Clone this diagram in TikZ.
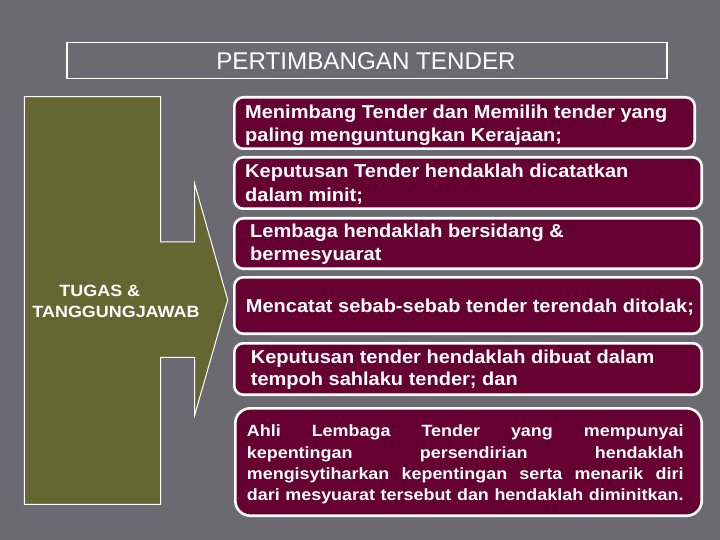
\documentclass[tikz,border=0pt]{standalone}
\usepackage{fontspec}
\setmainfont{Liberation Sans}
\newfontfamily\bxfont[FakeStretch=1.07]{Liberation Sans}
\newfontfamily\smfont[FakeStretch=1.1]{Liberation Sans}
\definecolor{bgc}{RGB}{107,106,114}
\definecolor{olivec}{RGB}{102,102,51}
\definecolor{maroonc}{RGB}{102,0,51}
\begin{document}
\begin{tikzpicture}[x=1bp,y=-1bp,
  itembox/.style={draw=white,line width=2.6bp,fill=maroonc,rounded corners=9bp},
  ln/.style={anchor=base west,inner sep=0pt,text=white,font=\bxfont\bfseries\fontsize{18.7bp}{22bp}\selectfont},
  lnsm/.style={anchor=base west,inner sep=0pt,text=white,font=\smfont\bfseries\fontsize{16.3bp}{20bp}\selectfont}]
\fill[bgc] (0,0) rectangle (720,540);
\useasboundingbox (0,0) rectangle (720,540);
% title
\draw[white,line width=1.2bp] (67,42.5) rectangle (667,78.5);
\node[anchor=base,inner sep=0pt,text=white,font=\fontsize{24.2bp}{27bp}\selectfont] (title) at (366,70) {PERTIMBANGAN TENDER};
% arrow shape
\draw[white,line width=1bp,fill=olivec,line join=miter]
  (24.3,96.7) -- (160.7,96.7) -- (160.7,242) -- (194.7,242) -- (194.7,184)
  -- (227.7,300) -- (194.7,415) -- (194.7,357.3) -- (160.7,357.3)
  -- (160.7,504.3) -- (24.3,504.3) -- cycle;
\node[lnsm] (lab1) at (59.3,296) {TUGAS \&};
\node[lnsm] (lab2) at (32.3,317.7) {TANGGUNGJAWAB};
% boxes
\draw[itembox] (234.3,97.3) rectangle (694.7,148.7);
\draw[itembox] (234.3,157.3) rectangle (701.7,208.7);
\draw[itembox] (234.3,218.3) rectangle (701.7,268.7);
\draw[itembox] (234.3,277.3) rectangle (701.7,333.7);
\draw[itembox] (234.3,343.3) rectangle (701.7,394.7);
\draw[itembox,rounded corners=15bp] (235.3,408.3) rectangle (701.7,515.7);
% texts
\node[ln] (t1a) at (245,118.7) {Menimbang Tender dan Memilih tender yang};
\node[ln] (t1b) at (245,142) {paling menguntungkan Kerajaan;};
\node[ln] (t2a) at (245,178) {Keputusan Tender hendaklah dicatatkan};
\node[ln] (t2b) at (245,201.3) {dalam minit;};
\node[ln] (t3a) at (250,237.7) {Lembaga hendaklah bersidang \&};
\node[ln] (t3b) at (250,260.3) {bermesyuarat};
\node[ln] (t4a) at (245.7,312) {Mencatat sebab-sebab tender terendah ditolak;};
\node[ln] (t5a) at (250.7,363.7) {Keputusan tender hendaklah dibuat dalam};
\node[ln] (t5b) at (250.7,385.3) {tempoh sahlaku tender; dan};
\node[lnsm] (t6a) at (246.7,436.7) {\makebox[436.6bp][s]{Ahli Lembaga Tender yang mempunyai}};
\node[lnsm] (t6b) at (246.7,458) {\makebox[436.6bp][s]{kepentingan persendirian hendaklah}};
\node[lnsm] (t6c) at (246.7,479.3) {\makebox[436.6bp][s]{mengisytiharkan kepentingan serta menarik diri}};
\node[lnsm] (t6d) at (246.7,500.7) {\makebox[436.6bp][s]{dari mesyuarat tersebut dan hendaklah diminitkan.}};
\end{tikzpicture}
\end{document}
